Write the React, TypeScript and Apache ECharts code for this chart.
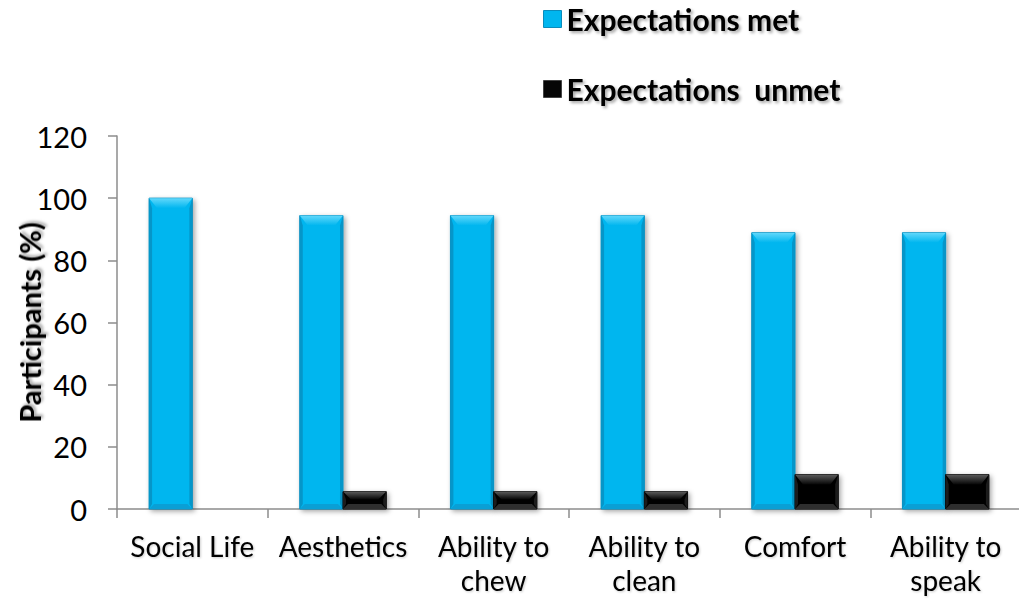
import React, { useEffect, useRef } from "react";
import * as echarts from "echarts";

// Categories and percentages of participants
const categories = [
  "Social Life",
  "Aesthetics",
  "Ability to\nchew",
  "Ability to\nclean",
  "Comfort",
  "Ability to\nspeak",
];
const metValues = [100, 94.4, 94.4, 94.4, 88.9, 88.9];
const unmetValues = [0, 5.6, 5.6, 5.6, 11.1, 11.1];
const seriesNames = ["Expectations met", "Expectations  unmet"];
const yMin = 0;
const yMax = 120;
const yStep = 20;

const FONT = "Lato, 'Open Sans', sans-serif";

type Palette = { main: string; light: string; side: string; bottom: string; edge: string };

const bluePalette: Palette = {
  main: "#00B6EF",
  light: "#62D8FB",
  side: "#0596C9",
  bottom: "#0A9FD5",
  edge: "#0A8CBC",
};
const blackPalette: Palette = {
  main: "#060606",
  light: "#5C5C5C",
  side: "#1C1C1C",
  bottom: "#2E2E2E",
  edge: "#000000",
};

// Bevelled bar drawn on the category/value scales; side = -1 left of centre, +1 right
function bevelBar(side: number, pal: Palette) {
  return (params: any, api: any) => {
    const idx = api.value(0);
    const v = api.value(1);
    if (!v) return null;
    const base = api.coord([idx, 0]);
    const top = api.coord([idx, v]);
    const band = api.size([1, 0])[0];
    const w = band * 0.287;
    const x = side < 0 ? base[0] - w : base[0];
    const y = top[1];
    const h = base[1] - top[1];
    const tb = Math.min(10, h * 0.45);
    const ti = Math.min(8, w / 3);
    const bb = Math.min(5, h * 0.3);
    const s = 3;
    return {
      type: "group",
      children: [
        {
          type: "rect",
          shape: { x, y, width: w, height: h },
          style: {
            fill: pal.main,
            stroke: pal.edge,
            lineWidth: 1,
            shadowBlur: 5,
            shadowColor: "rgba(0,0,0,0.35)",
            shadowOffsetX: 2,
            shadowOffsetY: 2,
          },
        },
        {
          type: "polygon",
          shape: { points: [[x, y], [x + s, y + tb], [x + s, y + h - bb], [x, y + h]] },
          style: { fill: pal.side },
        },
        {
          type: "polygon",
          shape: { points: [[x + w, y], [x + w - s, y + tb], [x + w - s, y + h - bb], [x + w, y + h]] },
          style: { fill: pal.side },
        },
        {
          type: "polygon",
          shape: { points: [[x, y + h], [x + w, y + h], [x + w - bb, y + h - bb], [x + bb, y + h - bb]] },
          style: { fill: pal.bottom },
        },
        {
          type: "polygon",
          shape: { points: [[x, y], [x + w, y], [x + w - ti, y + tb], [x + ti, y + tb]] },
          style: {
            fill: new echarts.graphic.LinearGradient(0, 0, 0, 1, [
              { offset: 0, color: pal.light },
              { offset: 1, color: pal.main },
            ]),
          },
        },
      ],
    };
  };
}

const shadowText = {
  textShadowColor: "rgba(0,0,0,0.35)",
  textShadowBlur: 3,
  textShadowOffsetX: 2,
  textShadowOffsetY: 2,
};

export default function App() {
  const ref = useRef<HTMLDivElement>(null);

  useEffect(() => {
    if (!ref.current) return;
    const chart = echarts.init(ref.current, undefined, { renderer: "svg" });
    chart.setOption({
      animation: false,
      backgroundColor: "#ffffff",
      legend: {
        orient: "vertical",
        left: 543,
        top: 1,
        padding: 0,
        itemWidth: 18,
        itemHeight: 17,
        itemGap: 34,
        icon: "rect",
        data: [
          { name: seriesNames[0], itemStyle: { color: bluePalette.main, borderColor: bluePalette.edge, borderWidth: 1 } },
          { name: seriesNames[1], itemStyle: { color: blackPalette.main, borderColor: "#444", borderWidth: 1 } },
        ],
        textStyle: {
          fontFamily: FONT,
          fontWeight: "bold",
          fontSize: 30,
          lineHeight: 36,
          color: "#000",
          ...shadowText,
        },
      },
      grid: {
        left: 117,
        top: 136,
        width: 904,
        height: 373,
        containLabel: false,
        outerBoundsMode: "none",
      },
      xAxis: {
        type: "category",
        data: categories,
        axisLine: { lineStyle: { color: "#8c8c8c", width: 1.5 } },
        axisTick: { show: true, length: 9, lineStyle: { color: "#8c8c8c", width: 1.5 } },
        axisLabel: {
          interval: 0,
          margin: 20,
          fontFamily: FONT,
          fontSize: 28,
          lineHeight: 34,
          color: "#000",
          textShadowColor: "rgba(0,0,0,0.2)",
          textShadowBlur: 2,
          textShadowOffsetX: 1,
          textShadowOffsetY: 1,
        },
      },
      yAxis: {
        type: "value",
        min: yMin,
        max: yMax,
        interval: yStep,
        name: "Participants (%)",
        nameLocation: "middle",
        nameGap: 73,
        nameMoveOverlap: false,
        nameTextStyle: {
          fontFamily: FONT,
          fontWeight: "bold",
          fontSize: 29,
          lineHeight: 30,
          color: "#000",
          ...shadowText,
        },
        axisLine: { show: true, lineStyle: { color: "#8c8c8c", width: 1.5 } },
        axisTick: { show: true, length: 9, lineStyle: { color: "#8c8c8c", width: 1.5 } },
        splitLine: { show: false },
        axisLabel: {
          margin: 30,
          fontFamily: FONT,
          fontSize: 29,
          color: "#000",
        },
      },
      series: [
        {
          name: seriesNames[0],
          type: "custom",
          itemStyle: { color: bluePalette.main },
          renderItem: bevelBar(-1, bluePalette),
          encode: { x: 0, y: 1 },
          data: metValues.map((v, i) => [i, v]),
        },
        {
          name: seriesNames[1],
          type: "custom",
          itemStyle: { color: blackPalette.main },
          renderItem: bevelBar(1, blackPalette),
          encode: { x: 0, y: 1 },
          data: unmetValues.map((v, i) => [i, v]),
        },
      ],
    });
    return () => chart.dispose();
  }, []);

  return (
    <div
      ref={ref}
      style={{ position: "absolute", left: 0, top: 0, width: 1019, height: 609 }}
    />
  );
}
